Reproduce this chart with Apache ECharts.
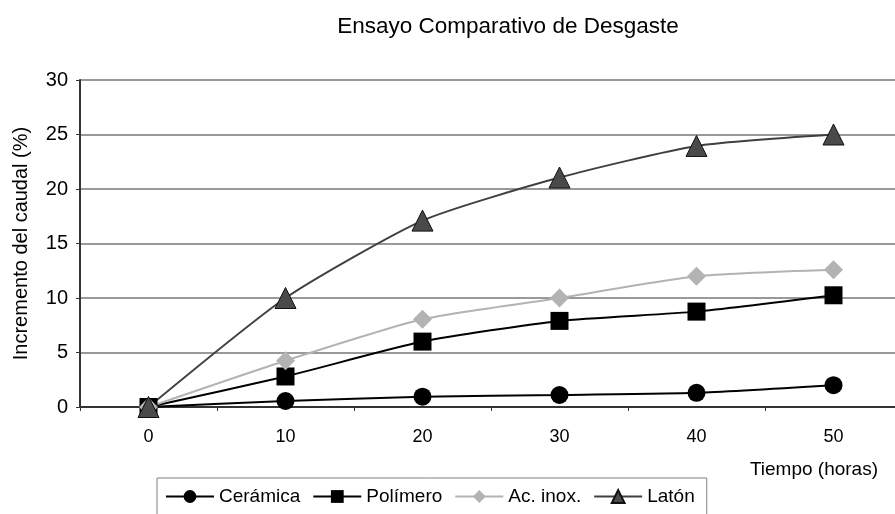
<!DOCTYPE html>
<html>
<head>
<meta charset="utf-8">
<script src="https://cdn.jsdelivr.net/npm/echarts@6/dist/echarts.min.js"></script>
<style>
  html, body { margin: 0; padding: 0; background: #fff; overflow: hidden; }
  /* the plot frame and the legend box run slightly past the page edges */
  #chart { width: 910px; height: 530px; }
</style>
</head>
<body>
<div id="chart"></div>
<script>
// Tiempo de ensayo (horas)
const horas = ['0', '10', '20', '30', '40', '50'];

// Incremento del caudal (%) por material
const ceramica = [0, 0.55, 0.95, 1.1, 1.3, 2.0];
const polimero = [0, 2.8, 6.0, 7.9, 8.75, 10.25];
const acInox = [0, 4.25, 8.05, 10.0, 12.0, 12.6];
const laton = [0, 10.0, 17.1, 21.05, 23.95, 25.0];

const yTicks = [0, 5, 10, 15, 20, 25, 30];

const font = 'Liberation Sans, Arial, sans-serif';

const chart = echarts.init(document.getElementById('chart'), null, { renderer: 'canvas' });

function serie(name, data, lineColor, symbol, size, fill, border) {
  return {
    name: name,
    type: 'line',
    data: data,
    smooth: 0.2,
    symbol: symbol,
    symbolSize: size,
    showSymbol: true,
    lineStyle: { color: lineColor, width: 2 },
    itemStyle: { color: fill, borderColor: border, borderWidth: border ? 1 : 0 },
    emphasis: { disabled: true }
  };
}

chart.setOption({
  animation: false,
  backgroundColor: '#ffffff',
  title: {
    text: 'Ensayo Comparativo de Desgaste',
    left: 503,
    textAlign: 'center',
    top: 10,
    textStyle: { fontFamily: font, fontSize: 22.5, fontWeight: 'normal', color: '#000' }
  },
  legend: {
    left: 157,
    top: 478,
    itemGap: 12,
    itemWidth: 48,
    itemHeight: 16,
    padding: [9, 12, 20, 8],
    borderColor: '#808080',
    borderWidth: 1,
    textStyle: { fontFamily: font, fontSize: 19, color: '#000' },
    data: ['Cerámica', 'Polímero', 'Ac. inox.', 'Latón']
  },
  grid: { left: 80, width: 822, top: 80, height: 327 },
  xAxis: {
    type: 'category',
    data: horas,
    boundaryGap: true,
    name: 'Tiempo (horas)',
    nameLocation: 'end',
    nameGap: 0,
    nameTextStyle: {
      fontFamily: font, fontSize: 19, color: '#000',
      align: 'right', verticalAlign: 'top', padding: [53, 24, 0, 0]
    },
    axisLine: { show: true, lineStyle: { color: '#333', width: 2 } },
    axisTick: { show: true, length: 4, lineStyle: { color: '#333' } },
    axisLabel: { fontFamily: font, fontSize: 18, color: '#000', margin: 21 },
    splitLine: { show: false }
  },
  yAxis: {
    type: 'value',
    min: yTicks[0],
    max: yTicks[yTicks.length - 1],
    interval: 5,
    name: 'Incremento del caudal (%)',
    nameLocation: 'middle',
    nameGap: 49,
    nameRotate: 90,
    nameTextStyle: { fontFamily: font, fontSize: 20, color: '#000' },
    axisLine: { show: true, lineStyle: { color: '#333', width: 2 } },
    axisTick: { show: true, length: 4, lineStyle: { color: '#333' } },
    axisLabel: { fontFamily: font, fontSize: 20, color: '#000', margin: 12 },
    splitLine: { show: true, lineStyle: { color: '#777', width: 1.5 } }
  },
  series: [
    serie('Cerámica', ceramica, '#000000', 'circle', 18, '#000000', null),
    serie('Polímero', polimero, '#000000', 'rect', 18, '#000000', null),
    serie('Ac. inox.', acInox, '#b3b3b3', 'diamond', 19, '#b3b3b3', null),
    serie('Latón', laton, '#404040', 'triangle', 21, '#4a4a4a', '#111')
  ]
});
</script>
</body>
</html>
